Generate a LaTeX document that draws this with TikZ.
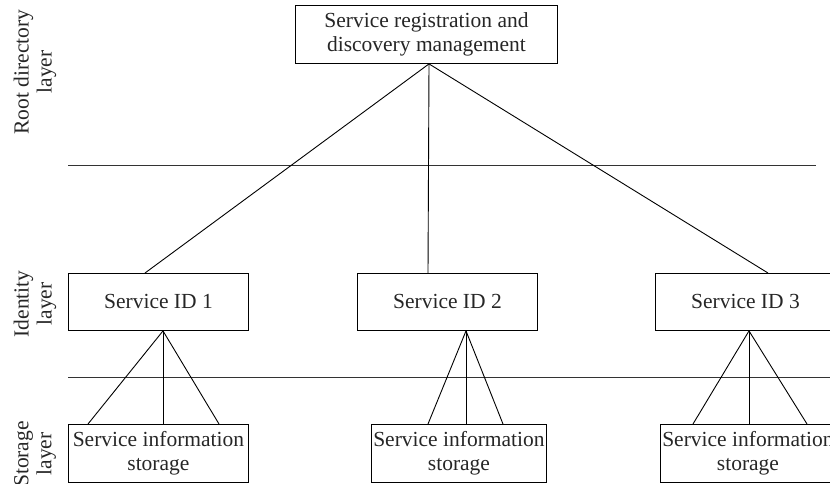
\documentclass[tikz,border=0pt]{standalone}
\usepackage{fontspec}
\setmainfont{Liberation Serif}
\begin{document}
\begin{tikzpicture}[x=1pt,y=-1pt,
  box/.style={draw=black, line width=0.9pt, inner sep=0pt, anchor=north west,
    font=\fontsize{21.5}{24.5}\selectfont, align=center, text=black!85},
  layerlabel/.style={rotate=90, align=center, font=\fontsize{21.5}{23}\selectfont, text=black!85},
  conn/.style={draw=black, line width=0.9pt},
  sep/.style={draw=black!80, line width=1pt}]
\clip (0,0) rectangle (830,483);
\useasboundingbox (0,0) rectangle (830,483);
% layer labels
\node[layerlabel] (lroot) at (35,72) {Root directory\\layer};
\node[layerlabel] (lid) at (35,304) {Identity\\layer};
\node[layerlabel] (lsto) at (35,454) {Storage\\layer};
% separator lines
\coordinate (s1a) at (68,165); \coordinate (s1b) at (816,165);
\coordinate (s2a) at (68,377); \coordinate (s2b) at (831,377);
\draw[sep] (s1a) -- (s1b);
\draw[sep] (s2a) -- (s2b);
% boxes
\node[box, minimum width=262pt, minimum height=58pt] (top) at (295,5) {Service registration and\\discovery management};
\node[box, minimum width=180pt, minimum height=57pt] (id1) at (68,273) {Service ID 1};
\node[box, minimum width=180pt, minimum height=57pt] (id2) at (357,273) {Service ID 2};
\node[box, minimum width=180pt, minimum height=57pt] (id3) at (655,273) {Service ID 3};
\node[box, minimum width=180pt, minimum height=58pt] (st1) at (68,424) {Service information\\storage};
\node[box, minimum width=175pt, minimum height=58pt] (st2) at (371,424) {Service information\\storage};
\node[box, minimum width=175pt, minimum height=58pt] (st3) at (660,424) {Service information\\storage};
% connectors top -> identity
\coordinate (apex) at ([xshift=134pt]top.south west);
\draw[conn] (apex) -- ([xshift=77pt]id1.north west);
\draw[conn] (apex) -- ([xshift=71pt]id2.north west);
\draw[conn] (apex) -- ([xshift=113pt]id3.north west);
% fans identity -> storage
\coordinate (a1) at ([xshift=95pt]id1.south west);
\draw[conn] (a1) -- ([xshift=20pt]st1.north west);
\draw[conn] (a1) -- ([xshift=95pt]st1.north west);
\draw[conn] (a1) -- ([xshift=151pt]st1.north west);
\coordinate (a2) at ([xshift=109pt]id2.south west);
\draw[conn] (a2) -- ([xshift=57pt]st2.north west);
\draw[conn] (a2) -- ([xshift=95pt]st2.north west);
\draw[conn] (a2) -- ([xshift=132pt]st2.north west);
\coordinate (a3) at ([xshift=94pt]id3.south west);
\draw[conn] (a3) -- ([xshift=33pt]st3.north west);
\draw[conn] (a3) -- ([xshift=89pt]st3.north west);
\draw[conn] (a3) -- ([xshift=147pt]st3.north west);
\end{tikzpicture}
\end{document}
